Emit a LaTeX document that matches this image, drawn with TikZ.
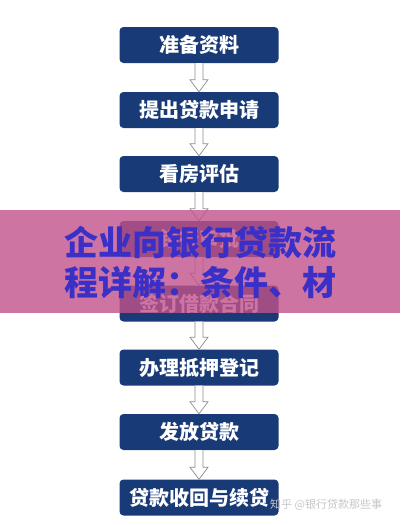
\documentclass[tikz,border=0pt]{standalone}
\usepackage{fontspec}
\usetikzlibrary{calc}
\newfontfamily\cjk{Noto Sans CJK SC}
\definecolor{navy}{HTML}{183A76}
\definecolor{banner}{HTML}{C2528B}
\definecolor{bluetext}{HTML}{3A2FC6}
\definecolor{arrowgray}{HTML}{8C8C8C}
\begin{document}
\begin{tikzpicture}[x=1pt,y=-1pt,
  stepbox/.style={fill=navy, rounded corners=4pt, minimum width=159pt, minimum height=36pt, inner sep=0pt,
    text=white, font=\cjk\bfseries\fontsize{20}{20}\selectfont},
  hollow/.style={draw=arrowgray, fill=white, line width=0.7pt}]
\useasboundingbox (0,0) rectangle (400,525);
\fill[white] (0,0) rectangle (400,525);
\foreach \name/\txt/\yy in {b1/准备资料/45, b2/提出贷款申请/110, b3/看房评估/174, b4/银行审批/239, b5/签订借款合同/303.5, b6/办理抵押登记/367.5, b7/发放贷款/432, b8/贷款收回与续贷/497.5}{
  \node[stepbox] (\name) at (199,\yy) {\txt};
}
\foreach \a/\b in {b1/b2, b2/b3, b3/b4, b4/b5, b5/b6, b6/b7, b7/b8}{
  \path (\a.south) coordinate (s) (\b.north) coordinate (e);
  \draw[hollow] ($(s)+(-4,0)$) -- ($(e)+(-4,-12)$) -- ($(e)+(-9,-12)$) -- (e) -- ($(e)+(9,-12)$) -- ($(e)+(4,-12)$) -- ($(s)+(4,0)$);
}
\fill[banner, opacity=0.8] (0,210) rectangle (400,313);
\node[text=bluetext, font=\cjk\bfseries\fontsize{34}{40}\selectfont, align=center] (title) at (200,262) {企业向银行贷款流\\程详解：条件、材};
\node[anchor=west, text=gray!45, font=\cjk\fontsize{11}{11}\selectfont, inner sep=0pt] (wm) at (270,505) {知乎 @银行贷款那些事};
\end{tikzpicture}
\end{document}
